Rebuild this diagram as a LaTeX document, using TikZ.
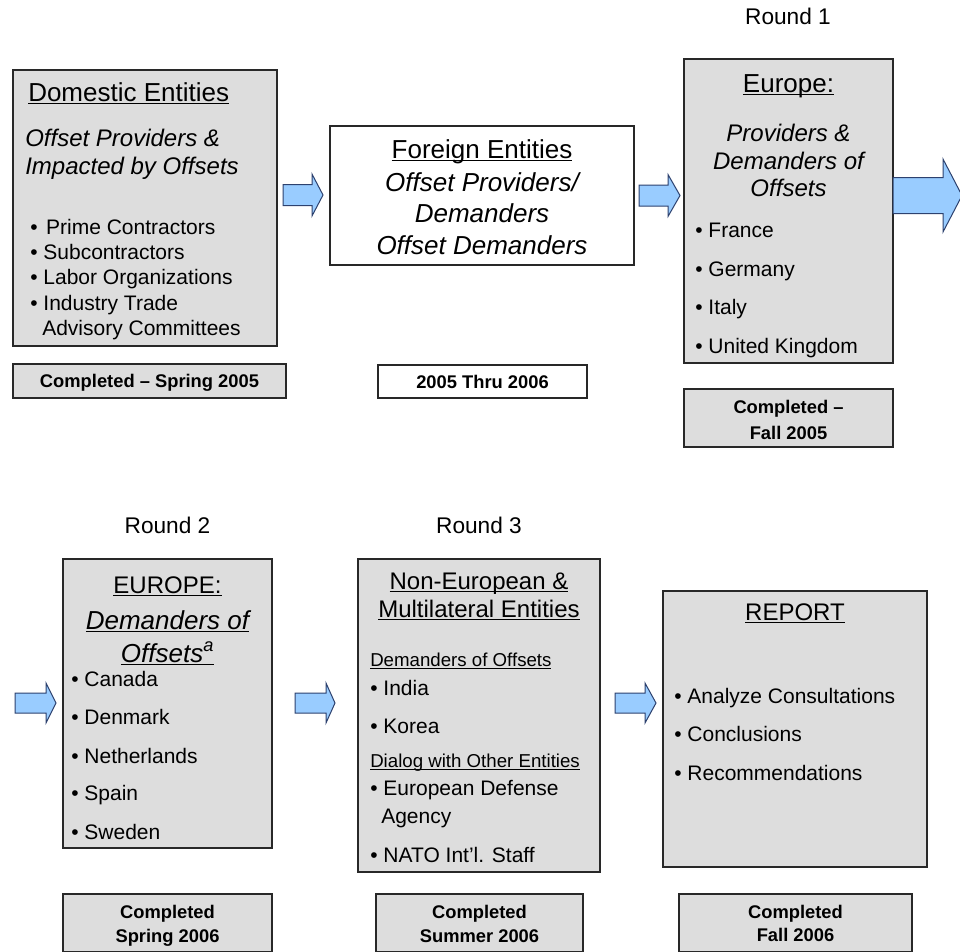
\documentclass[tikz,border=0pt]{standalone}
\usepackage{fontspec}
\setmainfont{Liberation Sans}
\usetikzlibrary{fit}
\definecolor{boxgray}{RGB}{221,221,221}
\definecolor{boxline}{RGB}{40,40,40}
\definecolor{arrowfill}{RGB}{153,204,255}
\definecolor{arrowline}{RGB}{45,65,110}
\newcommand{\fhead}{\fontsize{19.5}{23}\selectfont}
\newcommand{\fheadsm}{\fontsize{18}{21}\selectfont}
\newcommand{\fital}{\fontsize{18}{21}\selectfont\itshape}
\newcommand{\fitalbig}{\fontsize{19.5}{23}\selectfont\itshape}
\newcommand{\fitem}{\fontsize{15.75}{19}\selectfont}
\newcommand{\fsmall}{\fontsize{14}{17}\selectfont}
\newcommand{\fdone}{\fontsize{13.75}{16}\selectfont\bfseries}
\newcommand{\fround}{\fontsize{17}{20}\selectfont}
\newcommand{\undl}[1]{\underline{\smash{#1}}}
\newcommand{\blockarrow}[6]{\draw[flow] (#1,{#4-#5}) -- (#2,{#4-#5}) -- (#2,{#4-#6}) -- (#3,#4) -- (#2,{#4+#6}) -- (#2,{#4+#5}) -- (#1,{#4+#5}) -- cycle;}
\tikzset{
  graybox/.style={draw=boxline, fill=boxgray, line width=1pt, inner sep=0pt},
  whitebox/.style={graybox, fill=white},
  lft/.style={anchor=base west, inner sep=0pt},
  ctr/.style={anchor=base, inner sep=0pt},
  flow/.style={draw=arrowline, fill=arrowfill, line width=0.75pt, line join=miter}
}
\begin{document}
\begin{tikzpicture}[x=0.75pt, y=-0.75pt]
    \useasboundingbox (0,0) rectangle (960,951);

    %boxes
    \node[graybox, fit={(13,70) (277,346)}] (dom) {};
    \node[graybox, fit={(13,364) (286,398)}] (dom-done) {};
    \node[whitebox, fit={(330,126) (634,265)}] (for) {};
    \node[whitebox, fit={(378,365) (587,398)}] (for-done) {};
    \node[graybox, fit={(684,59) (893,363)}] (eu1) {};
    \node[graybox, fit={(684,389) (893,447)}] (eu1-done) {};
    \node[graybox, fit={(63,559) (272,848)}] (eu2) {};
    \node[graybox, fit={(63,894) (272,952)}] (eu2-done) {};
    \node[graybox, fit={(358,559) (600,872)}] (noneu) {};
    \node[graybox, fit={(376,894) (583,952)}] (noneu-done) {};
    \node[graybox, fit={(663,591) (927,867)}] (rep) {};
    \node[graybox, fit={(679,894) (912,952)}] (rep-done) {};

    %arrows
    \blockarrow{283}{312}{323}{195}{10.5}{21}
    \blockarrow{639}{668}{680}{195.5}{10.5}{21}
    \blockarrow{893}{943}{962}{195.5}{18}{36.5}
    \blockarrow{15}{46}{56}{703}{10}{20}
    \blockarrow{295}{326}{335}{703}{10}{20}
    \blockarrow{615}{645}{656}{703}{10}{20}

    %round labels
    \node[ctr, font=\fround] (round1) at (788,24) {Round 1};
    \node[ctr, font=\fround] (round2) at (167.5,533) {Round 2};
    \node[ctr, font=\fround] (round3) at (479,533) {Round 3};

    %domestic entities
    \node[lft, font=\fhead] (dom-title) at (28,101) {\undl{Domestic Entities}};
    \node[lft, font=\fital] (dom-sub1) at (25,146) {Offset Providers \&};
    \node[lft, font=\fital] (dom-sub2) at (25,174) {Impacted by Offsets};
    \foreach \txt/\yy [count=\i] in {\kern2pt Prime Contractors/234, Subcontractors/259, Labor Organizations/284, Industry Trade/310}
        \node[lft, font=\fitem] (dom-b\i) at (30,\yy) {• \txt};
    \node[lft, font=\fitem] (dom-b5) at (42,335) {Advisory Committees};
    \node[ctr, font=\fdone] (dom-when) at (149.5,387.5) {Completed – Spring 2005};

    %foreign entities
    \node[ctr, font=\fhead] (for-title) at (482,158) {\undl{Foreign Entities}};
    \node[ctr, font=\fitalbig] (for-sub1) at (482,191) {Offset Providers/};
    \node[ctr, font=\fitalbig] (for-sub2) at (482,222) {Demanders};
    \node[ctr, font=\fitalbig] (for-sub3) at (482,254) {Offset Demanders};
    \node[ctr, font=\fdone] (for-when) at (482.5,388) {2005 Thru 2006};

    %round 1
    \node[ctr, font=\fhead] (eu1-title) at (788.5,92) {\undl{Europe:}};
    \node[ctr, font=\fital] (eu1-sub1) at (788.5,141) {Providers \&};
    \node[ctr, font=\fital] (eu1-sub2) at (788.5,169) {Demanders of};
    \node[ctr, font=\fital] (eu1-sub3) at (788.5,196) {Offsets};
    \foreach \txt/\yy [count=\i] in {France/237, Germany/276, Italy/314, United Kingdom/353}
        \node[lft, font=\fitem] (eu1-b\i) at (695,\yy) {• \txt};
    \node[ctr, font=\fdone] (eu1-when1) at (788.5,413) {Completed –};
    \node[ctr, font=\fdone] (eu1-when2) at (788.5,439) {Fall 2005};

    %round 2
    \node[ctr, font=\fheadsm] (eu2-title) at (167.5,593) {\undl{EUROPE:}};
    \node[ctr, font=\fitalbig] (eu2-sub1) at (167.5,629) {\undl{Demanders of}};
    \node[ctr, font=\fitalbig] (eu2-sub2) at (167.5,662) {\undl{Offsets\textsuperscript{a}}};
    \foreach \txt/\yy [count=\i] in {Canada/686, Denmark/724, Netherlands/763, Spain/800, Sweden/839}
        \node[lft, font=\fitem] (eu2-b\i) at (71,\yy) {• \txt};
    \node[ctr, font=\fdone] (eu2-when1) at (167.5,918) {Completed};
    \node[ctr, font=\fdone] (eu2-when2) at (167.5,942) {Spring 2006};

    %round 3
    \node[ctr, font=\fheadsm] (noneu-title1) at (479,589) {\undl{Non-European \&}};
    \node[ctr, font=\fheadsm] (noneu-title2) at (479,617) {\undl{Multilateral Entities}};
    \node[lft, font=\fsmall] (noneu-grp1) at (370,666) {\undl{Demanders of Offsets}};
    \node[lft, font=\fitem] (noneu-b1) at (370,695) {• India};
    \node[lft, font=\fitem] (noneu-b2) at (370,733) {• Korea};
    \node[lft, font=\fsmall] (noneu-grp2) at (370,767) {\undl{Dialog with Other Entities}};
    \node[lft, font=\fitem] (noneu-b3) at (370,795) {• European Defense};
    \node[lft, font=\fitem] (noneu-b4) at (381,823) {Agency};
    \node[lft, font=\fitem] (noneu-b5) at (370,862) {• NATO Int’l. Staff};
    \node[ctr, font=\fdone] (noneu-when1) at (479.5,918) {Completed};
    \node[ctr, font=\fdone] (noneu-when2) at (479.5,942) {Summer 2006};

    %report
    \node[ctr, font=\fheadsm] (rep-title) at (795,620.5) {\undl{REPORT}};
    \foreach \txt/\yy [count=\i] in {Analyze Consultations/703, Conclusions/741, Recommendations/780}
        \node[lft, font=\fitem] (rep-b\i) at (674,\yy) {• \txt};
    \node[ctr, font=\fdone] (rep-when1) at (795.5,918) {Completed};
    \node[ctr, font=\fdone] (rep-when2) at (795.5,941) {Fall 2006};
\end{tikzpicture}
\end{document}
